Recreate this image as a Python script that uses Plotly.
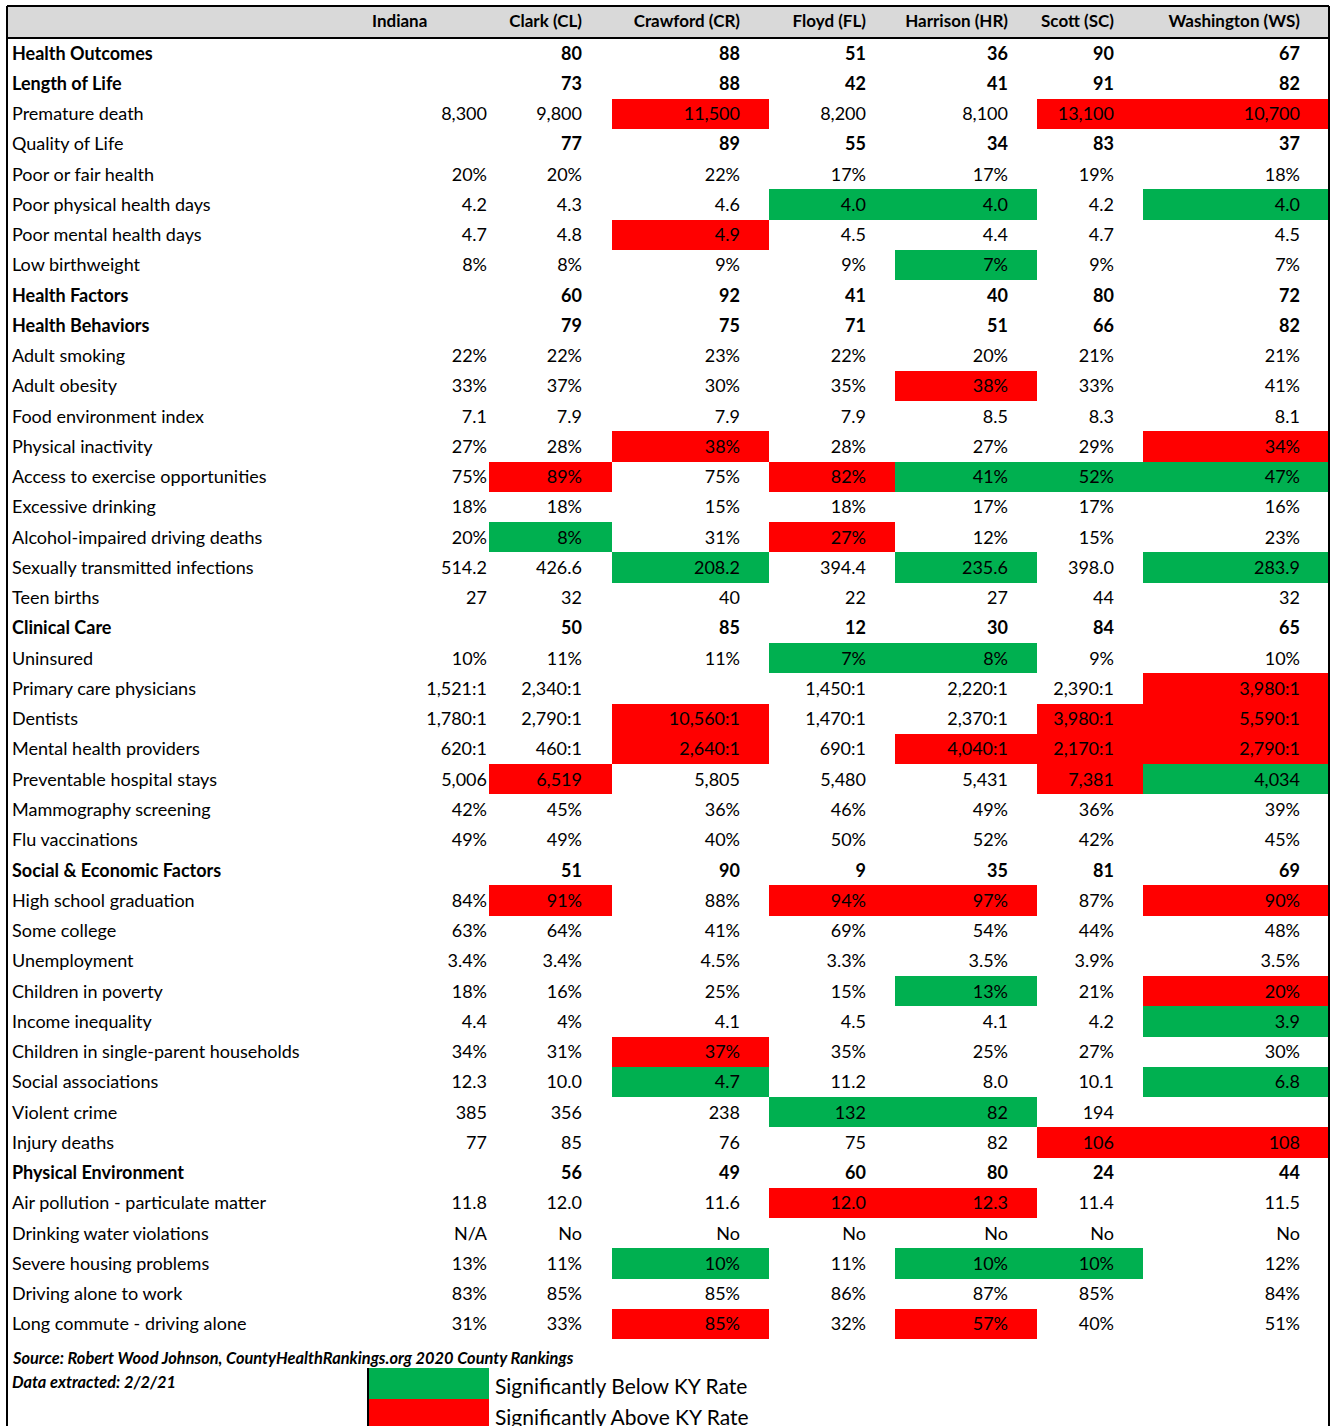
import plotly.graph_objects as go

# ---------------- data ----------------
columns = ["Indiana", "Clark (CL)", "Crawford (CR)", "Floyd (FL)",
           "Harrison (HR)", "Scott (SC)", "Washington (WS)"]

measures = [
    "Health Outcomes", "Length of Life", "Premature death", "Quality of Life",
    "Poor or fair health", "Poor physical health days", "Poor mental health days",
    "Low birthweight", "Health Factors", "Health Behaviors", "Adult smoking",
    "Adult obesity", "Food environment index", "Physical inactivity",
    "Access to exercise opportunities", "Excessive drinking",
    "Alcohol-impaired driving deaths", "Sexually transmitted infections",
    "Teen births", "Clinical Care", "Uninsured", "Primary care physicians",
    "Dentists", "Mental health providers", "Preventable hospital stays",
    "Mammography screening", "Flu vaccinations", "Social & Economic Factors",
    "High school graduation", "Some college", "Unemployment",
    "Children in poverty", "Income inequality",
    "Children in single-parent households", "Social associations",
    "Violent crime", "Injury deaths", "Physical Environment",
    "Air pollution - particulate matter", "Drinking water violations",
    "Severe housing problems", "Driving alone to work",
    "Long commute - driving alone",
]

bold_label_rows = ["Health Outcomes", "Length of Life", "Health Factors",
                   "Health Behaviors", "Clinical Care",
                   "Social & Economic Factors", "Physical Environment"]
bold_value_rows = bold_label_rows + ["Quality of Life"]

indiana = ["", "", "8,300", "", "20%", "4.2", "4.7", "8%", "", "", "22%", "33%",
           "7.1", "27%", "75%", "18%", "20%", "514.2", "27", "", "10%",
           "1,521:1", "1,780:1", "620:1", "5,006", "42%", "49%", "", "84%",
           "63%", "3.4%", "18%", "4.4", "34%", "12.3", "385", "77", "", "11.8",
           "N/A", "13%", "83%", "31%"]
clark = ["80", "73", "9,800", "77", "20%", "4.3", "4.8", "8%", "60", "79", "22%",
         "37%", "7.9", "28%", "89%", "18%", "8%", "426.6", "32", "50", "11%",
         "2,340:1", "2,790:1", "460:1", "6,519", "45%", "49%", "51", "91%",
         "64%", "3.4%", "16%", "4%", "31%", "10.0", "356", "85", "56", "12.0",
         "No", "11%", "85%", "33%"]
crawford = ["88", "88", "11,500", "89", "22%", "4.6", "4.9", "9%", "92", "75",
            "23%", "30%", "7.9", "38%", "75%", "15%", "31%", "208.2", "40", "85",
            "11%", "", "10,560:1", "2,640:1", "5,805", "36%", "40%", "90", "88%",
            "41%", "4.5%", "25%", "4.1", "37%", "4.7", "238", "76", "49", "11.6",
            "No", "10%", "85%", "85%"]
floyd = ["51", "42", "8,200", "55", "17%", "4.0", "4.5", "9%", "41", "71", "22%",
         "35%", "7.9", "28%", "82%", "18%", "27%", "394.4", "22", "12", "7%",
         "1,450:1", "1,470:1", "690:1", "5,480", "46%", "50%", "9", "94%", "69%",
         "3.3%", "15%", "4.5", "35%", "11.2", "132", "75", "60", "12.0", "No",
         "11%", "86%", "32%"]
harrison = ["36", "41", "8,100", "34", "17%", "4.0", "4.4", "7%", "40", "51",
            "20%", "38%", "8.5", "27%", "41%", "17%", "12%", "235.6", "27", "30",
            "8%", "2,220:1", "2,370:1", "4,040:1", "5,431", "49%", "52%", "35",
            "97%", "54%", "3.5%", "13%", "4.1", "25%", "8.0", "82", "82", "80",
            "12.3", "No", "10%", "87%", "57%"]
scott = ["90", "91", "13,100", "83", "19%", "4.2", "4.7", "9%", "80", "66", "21%",
         "33%", "8.3", "29%", "52%", "17%", "15%", "398.0", "44", "84", "9%",
         "2,390:1", "3,980:1", "2,170:1", "7,381", "36%", "42%", "81", "87%",
         "44%", "3.9%", "21%", "4.2", "27%", "10.1", "194", "106", "24", "11.4",
         "No", "10%", "85%", "40%"]
washington = ["67", "82", "10,700", "37", "18%", "4.0", "4.5", "7%", "72", "82",
              "21%", "41%", "8.1", "34%", "47%", "16%", "23%", "283.9", "32",
              "65", "10%", "3,980:1", "5,590:1", "2,790:1", "4,034", "39%", "45%",
              "69", "90%", "48%", "3.5%", "20%", "3.9", "30%", "6.8", "", "108",
              "44", "11.5", "No", "12%", "84%", "51%"]

# significance vs. KY rate: "above" (red) / "below" (green)
clark_flags = {"Access to exercise opportunities": "above",
               "Alcohol-impaired driving deaths": "below",
               "Preventable hospital stays": "above",
               "High school graduation": "above"}
crawford_flags = {"Premature death": "above", "Poor mental health days": "above",
                  "Physical inactivity": "above",
                  "Sexually transmitted infections": "below",
                  "Dentists": "above", "Mental health providers": "above",
                  "Children in single-parent households": "above",
                  "Social associations": "below",
                  "Severe housing problems": "below",
                  "Long commute - driving alone": "above"}
floyd_flags = {"Poor physical health days": "below",
               "Access to exercise opportunities": "above",
               "Alcohol-impaired driving deaths": "above",
               "Uninsured": "below", "High school graduation": "above",
               "Violent crime": "below",
               "Air pollution - particulate matter": "above"}
harrison_flags = {"Poor physical health days": "below", "Low birthweight": "below",
                  "Adult obesity": "above",
                  "Access to exercise opportunities": "below",
                  "Sexually transmitted infections": "below",
                  "Uninsured": "below", "Mental health providers": "above",
                  "High school graduation": "above",
                  "Children in poverty": "below", "Violent crime": "below",
                  "Air pollution - particulate matter": "above",
                  "Severe housing problems": "below",
                  "Long commute - driving alone": "above"}
scott_flags = {"Premature death": "above",
               "Access to exercise opportunities": "below",
               "Dentists": "above", "Mental health providers": "above",
               "Preventable hospital stays": "above", "Injury deaths": "above",
               "Severe housing problems": "below"}
washington_flags = {"Premature death": "above",
                    "Poor physical health days": "below",
                    "Physical inactivity": "above",
                    "Access to exercise opportunities": "below",
                    "Sexually transmitted infections": "below",
                    "Primary care physicians": "above", "Dentists": "above",
                    "Mental health providers": "above",
                    "Preventable hospital stays": "below",
                    "High school graduation": "above",
                    "Children in poverty": "above", "Income inequality": "below",
                    "Social associations": "below", "Injury deaths": "above"}

source_note = "Source: Robert Wood Johnson, CountyHealthRankings.org 2020 County Rankings"
extract_note = "Data extracted: 2/2/21"
legend_labels = {"below": "Significantly Below KY Rate",
                 "above": "Significantly Above KY Rate"}

# ---------------- styling ----------------
W, H = 1331, 1426
RED, GREEN, WHITE, GRAY = "#FF0000", "#00B050", "#FFFFFF", "#D9D9D9"
CLEAR = "rgba(0,0,0,0)"
flag_color = {"above": RED, "below": GREEN}
FONT = "Lato, Carlito, 'Open Sans', sans-serif"
CELL_SIZE = 18
ROW_H = 30.26
HEAD_H = 32
TOP = 6
N = len(measures)

county_values = [clark, crawford, floyd, harrison, scott, washington]
county_flags = [clark_flags, crawford_flags, floyd_flags, harrison_flags,
                scott_flags, washington_flags]

# labels with "&" are treated as markup by plotly tables (row grows), so
# they are drawn in their own layer
markup_rows = [m for m in measures if "&" in m]

layers = {"normal": [], "bold": [], "markup": []}
for col, rows in [(measures, bold_label_rows), (indiana, bold_value_rows)] + \
        [(c, bold_value_rows) for c in county_values]:
    normal, bold, markup = [], [], []
    for v, m in zip(col, measures):
        is_markup = (col is measures and m in markup_rows)
        is_bold = m in rows
        normal.append(v if (not is_bold and not is_markup) else "")
        bold.append(v if (is_bold and not is_markup) else "")
        markup.append(v if is_markup else "")
    layers["normal"].append(normal)
    layers["bold"].append(bold)
    layers["markup"].append(markup)
for k in layers:
    layers[k].append([""] * N)

# fill colours (column-major)
fill_cols = [[WHITE] * N, [WHITE] * N]
for flags in county_flags:
    fill_cols.append([flag_color.get(flags.get(m, ""), WHITE) for m in measures])


def px_x(p):
    return p / W


def px_y(p):
    return 1 - p / H


fig = go.Figure()

# background table: true cell geometry with the significance fills
fill_widths = [361, 121, 123, 157, 126, 142, 106, 186]
fig.add_trace(go.Table(
    domain=dict(x=[px_x(7), px_x(7 + sum(fill_widths))], y=[0, px_y(TOP)]),
    columnwidth=fill_widths,
    header=dict(values=[""] * 8, fill_color=GRAY, height=HEAD_H,
                line=dict(width=0, color=GRAY)),
    cells=dict(values=[[""] * N] * 8, fill_color=fill_cols,
               height=ROW_H, line=dict(width=0, color=WHITE)),
))

# text tables: column edges offset so the cell padding matches the original
text_widths = [360, 131, 95, 158, 126, 142, 106, 186, 23]
for name, weight, top in [("normal", "normal", TOP), ("bold", "bold", TOP),
                          ("markup", "bold", TOP - 4)]:
    fig.add_trace(go.Table(
        domain=dict(x=[px_x(4), px_x(4 + sum(text_widths))], y=[0, px_y(top)]),
        columnwidth=text_widths,
        header=dict(values=([""] + columns + [""]) if name == "normal" else [""] * 9,
                    align=["left", "left"] + ["right"] * 7,
                    fill_color=CLEAR, height=HEAD_H,
                    line=dict(width=0, color=CLEAR),
                    font=dict(family=FONT, size=17, color="#000000", weight="bold")),
        cells=dict(values=layers[name],
                   align=["left"] + ["right"] * 8,
                   fill_color=CLEAR, height=ROW_H,
                   line=dict(width=0, color=CLEAR),
                   font=dict(family=FONT, size=CELL_SIZE, color="#000000",
                             weight=weight)),
    ))

shapes = [
    # outer borders
    dict(type="line", xref="paper", yref="paper", x0=px_x(7), x1=px_x(1329),
         y0=px_y(TOP), y1=px_y(TOP), line=dict(color="black", width=2)),
    dict(type="line", xref="paper", yref="paper", x0=px_x(7), x1=px_x(1329),
         y0=px_y(TOP + HEAD_H), y1=px_y(TOP + HEAD_H), line=dict(color="black", width=2)),
    dict(type="line", xref="paper", yref="paper", x0=px_x(7), x1=px_x(7),
         y0=px_y(TOP), y1=0, line=dict(color="black", width=2)),
    dict(type="line", xref="paper", yref="paper", x0=px_x(1329), x1=px_x(1329),
         y0=px_y(TOP), y1=0, line=dict(color="black", width=2)),
]

# legend swatches
leg_top = 1368
leg_h = 31
for i, key in enumerate(["below", "above"]):
    shapes.append(dict(type="rect", xref="paper", yref="paper",
                       x0=px_x(368), x1=px_x(489),
                       y0=px_y(leg_top + i * leg_h), y1=px_y(leg_top + (i + 1) * leg_h),
                       fillcolor=flag_color[key], line=dict(width=0)))
    fig.add_annotation(xref="paper", yref="paper", x=px_x(493),
                       y=px_y(leg_top + i * leg_h + leg_h / 2 + 2),
                       text=legend_labels[key], showarrow=False,
                       xanchor="left", yanchor="middle",
                       font=dict(family=FONT, size=21, color="#000000"))
shapes.append(dict(type="line", xref="paper", yref="paper", x0=px_x(368), x1=px_x(368),
                   y0=px_y(leg_top), y1=0, line=dict(color="black", width=2)))

fig.add_annotation(xref="paper", yref="paper", x=px_x(10), y=px_y(1357),
                   text=f"<i>{source_note}</i>", showarrow=False,
                   xanchor="left", yanchor="middle",
                   font=dict(family=FONT, size=16.4, color="#000000", weight="bold"))
fig.add_annotation(xref="paper", yref="paper", x=px_x(10), y=px_y(1381),
                   text=f"<i>{extract_note}</i>", showarrow=False,
                   xanchor="left", yanchor="middle",
                   font=dict(family=FONT, size=16.4, color="#000000", weight="bold"))

fig.update_layout(width=W, height=H, margin=dict(l=0, r=0, t=0, b=0),
                  paper_bgcolor="white", plot_bgcolor="white", shapes=shapes,
                  showlegend=False)

fig.write_html("out.html", config={"displayModeBar": False},
               post_script="document.body.style.margin='0px';document.body.style.overflow='hidden';")
